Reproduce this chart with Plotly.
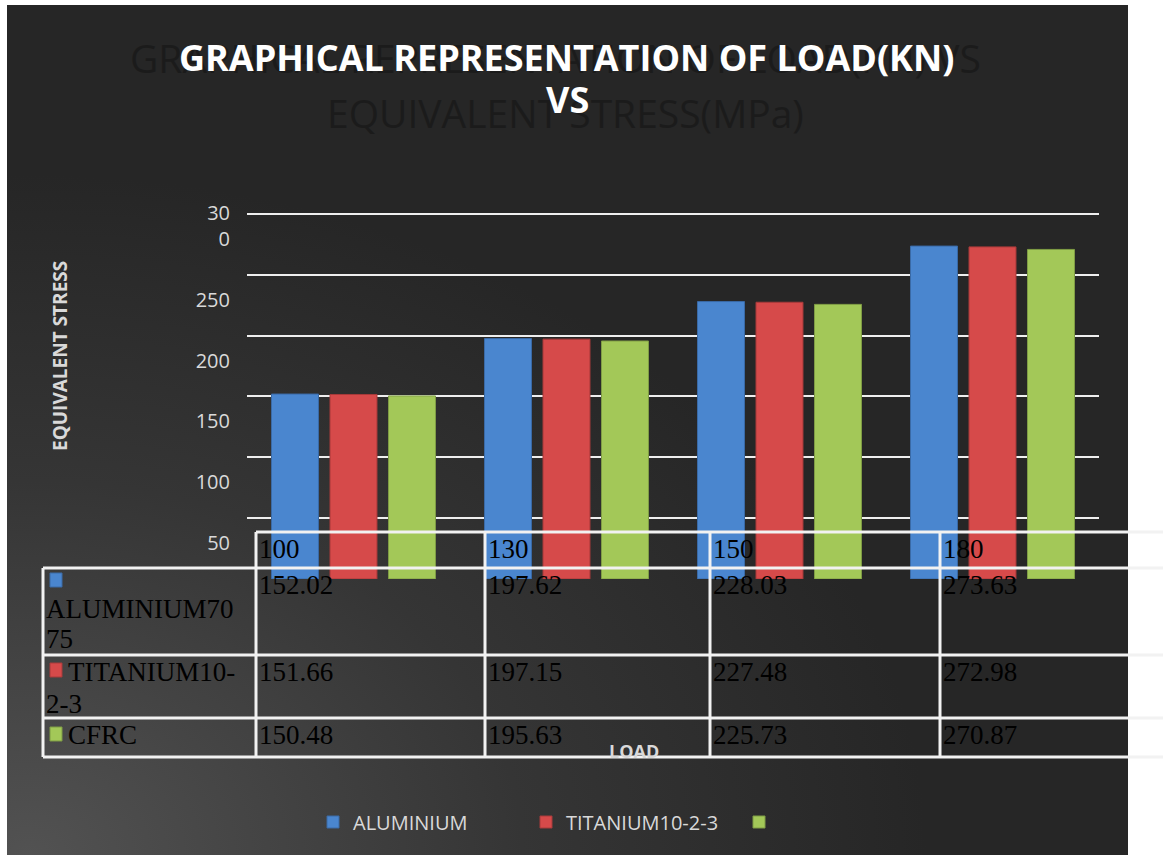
import base64
import plotly.graph_objects as go

# ---------------- data ----------------
loads = ["100", "130", "150", "180"]
aluminium = [152.02, 197.62, 228.03, 273.63]
titanium = [151.66, 197.15, 227.48, 272.98]
cfrc = [150.48, 195.63, 225.73, 270.87]
legend_names = ["ALUMINIUM", "TITANIUM10-2-3", ""]
table_label_lines = [["ALUMINIUM70", "75"], ["TITANIUM10-", "2-3"], ["CFRC"]]
y_tickvals = [50, 100, 150, 200, 250, 300]
y_ticktext = ["50", "100", "150", "200", "250", "30<br>0<br> "]

title_line1 = "GRAPHICAL REPRESENTATION OF LOAD(KN)"
title_line2 = "VS"
shadow_line1 = "GRAPHICAL REPRESENTATION OF LOAD(KN) VS"
shadow_line2 = "EQUIVALENT STRESS(MPa)"
y_title = "EQUIVALENT STRESS"
x_title = "LOAD"

# ---------------- styles ----------------
W, H = 1163, 855
colors = ["#4a86cf", "#d64a4a", "#a3c858"]
line_colors = ["#3a6aa6", "#a83a3a", "#7f9c45"]
light = "#d9d9d9"
SANS = "Open Sans, Lato, sans-serif"
TITLE_FONT = "Open Sans, sans-serif"
SERIF = "Liberation Serif, Times New Roman, serif"
Y_MAX = 302
PX_PER_UNIT = (579 - 214) / 300.0


def px(x):
    return x / W


def py(y):
    return 1 - y / H


fig = go.Figure()
series = [aluminium, titanium, cfrc]
for vals, name, c, lc in zip(series, legend_names, colors, line_colors):
    fig.add_trace(go.Bar(
        x=loads, y=vals, name=name,
        marker=dict(color=c, line=dict(color=lc, width=1)),
    ))

# background gradient as an svg image
svg = (
    '<svg xmlns="http://www.w3.org/2000/svg" width="1121" height="850" '
    'viewBox="0 0 1121 850" preserveAspectRatio="none">'
    '<defs><radialGradient id="g" cx="0.02" cy="1" r="0.8">'
    '<stop offset="0" stop-color="#525252"/>'
    '<stop offset="0.55" stop-color="#353535"/>'
    '<stop offset="1" stop-color="#262626"/></radialGradient></defs>'
    '<rect width="1121" height="850" fill="url(#g)"/></svg>'
)
uri = "data:image/svg+xml;base64," + base64.b64encode(svg.encode()).decode()

shapes = []
annotations = []

# ---- table grid ----
grid_col = "#f2f2f2"
col_x = [256, 485, 710, 940]
row_y = [532, 568, 655, 718, 757]
shapes.append(dict(type="line", xref="paper", yref="paper", x0=px(256), x1=px(1163),
                   y0=py(532), y1=py(532), line=dict(color=grid_col, width=3)))
for yy in row_y[1:]:
    shapes.append(dict(type="line", xref="paper", yref="paper", x0=px(43), x1=px(1163),
                       y0=py(yy), y1=py(yy), line=dict(color=grid_col, width=3)))
shapes.append(dict(type="line", xref="paper", yref="paper", x0=px(43), x1=px(43),
                   y0=py(568), y1=py(757), line=dict(color=grid_col, width=3)))
for xx in col_x:
    shapes.append(dict(type="line", xref="paper", yref="paper", x0=px(xx), x1=px(xx),
                       y0=py(532), y1=py(757), line=dict(color=grid_col, width=3)))

tfont = dict(family=SERIF, size=27, color="#000000")
for i, ld in enumerate(loads):
    annotations.append(dict(text=ld, xref="paper", yref="paper", x=px(col_x[i] + 1), y=py(549),
                            xanchor="left", yanchor="middle", showarrow=False, font=tfont))
value_rows_y = [585, 672, 735]
for r, vals in enumerate(series):
    for i, v in enumerate(vals):
        annotations.append(dict(text=f"{v:.2f}", xref="paper", yref="paper",
                                x=px(col_x[i] + 1), y=py(value_rows_y[r]),
                                xanchor="left", yanchor="middle", showarrow=False, font=tfont))

icon_pos = [(50, 573), (50, 663), (50, 727)]
label_lines_pos = [
    [(44, 609), (44, 639)],
    [(66, 672), (44, 704)],
    [(66, 735)],
]
for r in range(3):
    ix, iy = icon_pos[r]
    shapes.append(dict(type="rect", xref="paper", yref="paper", x0=px(ix), x1=px(ix + 12),
                       y0=py(iy), y1=py(iy + 14), fillcolor=colors[r],
                       line=dict(color=line_colors[r], width=1)))
    for txt, (lx, ly) in zip(table_label_lines[r], label_lines_pos[r]):
        annotations.append(dict(text=txt, xref="paper", yref="paper", x=px(lx), y=py(ly),
                                xanchor="left", yanchor="middle", showarrow=False, font=tfont))

# titles
annotations.append(dict(text=shadow_line1, xref="paper", yref="paper", x=px(555), y=py(58),
                        xanchor="center", yanchor="middle", showarrow=False,
                        font=dict(family=TITLE_FONT, size=39, color="#1b1b1b")))
annotations.append(dict(text=shadow_line2, xref="paper", yref="paper", x=px(565), y=py(112),
                        xanchor="center", yanchor="middle", showarrow=False,
                        font=dict(family=TITLE_FONT, size=39, color="#1b1b1b")))
annotations.append(dict(text=title_line1, xref="paper", yref="paper", x=px(566), y=py(58),
                        xanchor="center", yanchor="middle", showarrow=False,
                        font=dict(family=TITLE_FONT, size=36, color="#ffffff", weight="bold")))
annotations.append(dict(text=title_line2, xref="paper", yref="paper", x=px(567), y=py(99),
                        xanchor="center", yanchor="middle", showarrow=False,
                        font=dict(family=TITLE_FONT, size=36, color="#ffffff", weight="bold")))
annotations.append(dict(text=y_title, xref="paper", yref="paper", x=px(60), y=py(356),
                        xanchor="center", yanchor="middle", textangle=-90, showarrow=False,
                        font=dict(family=SANS, size=19, color=light, weight="bold")))
annotations.append(dict(text=x_title, xref="paper", yref="paper", x=px(634), y=py(751),
                        xanchor="center", yanchor="middle", showarrow=False,
                        font=dict(family=SANS, size=18, color=light, weight="bold")))

top_px = 579 - Y_MAX * PX_PER_UNIT

fig.update_layout(
    width=W, height=H,
    margin=dict(l=0, r=0, t=0, b=0, autoexpand=False),
    paper_bgcolor="#ffffff",
    plot_bgcolor="rgba(0,0,0,0)",
    barmode="group",
    bargap=0.176,
    bargroupgap=0.197,
    images=[dict(source=uri, xref="paper", yref="paper", x=px(7), y=py(5),
                 sizex=px(1128) - px(7), sizey=py(5) - py(855),
                 xanchor="left", yanchor="top", sizing="stretch", layer="below")],
    xaxis=dict(domain=[px(247), px(1099)], range=[-0.5, 3.5], showticklabels=False,
               showgrid=False, zeroline=False, showline=False, ticks="", automargin=False),
    yaxis=dict(domain=[py(579), py(top_px)], range=[0, Y_MAX], tickvals=y_tickvals,
               ticktext=y_ticktext, showgrid=True, gridcolor="#eeeeee", gridwidth=2,
               zeroline=False, showline=False, ticks="", ticklabelshift=25,
               ticklabelstandoff=16, automargin=False,
               tickfont=dict(family=SANS, size=20, color=light)),
    showlegend=True,
    legend=dict(orientation="h", x=px(313), y=py(822), xanchor="left", yanchor="middle",
                entrywidth=168, entrywidthmode="pixels", bgcolor="rgba(0,0,0,0)",
                font=dict(family=SANS, size=20, color=light), traceorder="normal"),
    shapes=shapes,
    annotations=annotations,
)

fig.write_html("out.html")
